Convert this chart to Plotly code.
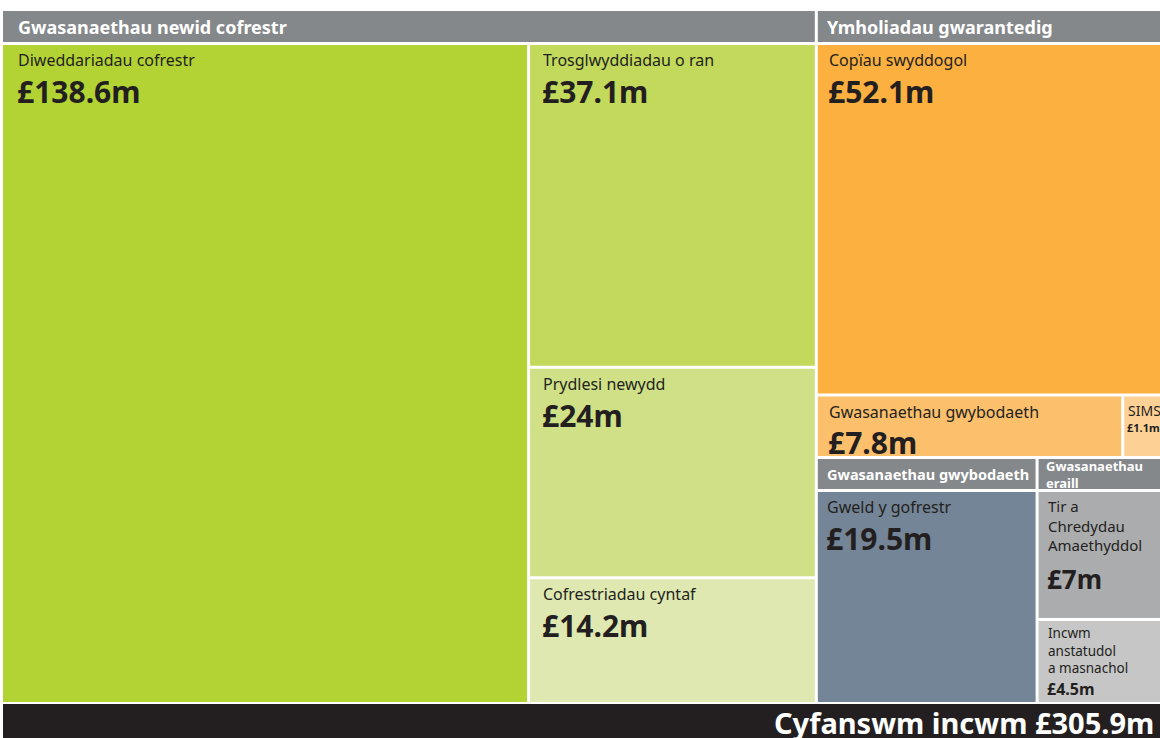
import plotly.graph_objects as go

# ---- data (income in £m) ----
newid_header = "Gwasanaethau newid cofrestr"
newid_labels = ["Diweddariadau cofrestr", "Trosglwyddiadau o ran", "Prydlesi newydd", "Cofrestriadau cyntaf"]
newid_values = [138.6, 37.1, 24, 14.2]

gwarant_header = "Ymholiadau gwarantedig"
gwarant_labels = ["Copïau swyddogol", "Gwasanaethau gwybodaeth", "SIMS"]
gwarant_values = [52.1, 7.8, 1.1]

gwybod_header = "Gwasanaethau gwybodaeth"
gwybod_labels = ["Gweld y gofrestr"]
gwybod_values = [19.5]

eraill_header = "Gwasanaethau<br>eraill"
eraill_labels = ["Tir a<br>Chredydau<br>Amaethyddol", "Incwm<br>anstatudol<br>a masnachol"]
eraill_values = [7, 4.5]

total_label = "Cyfanswm incwm £305.9m"

# ---- styles ----
FONT = "Noto Sans"
DARK = "#231f20"
HEAD = "#85888b"
newid_colors = ["#b3d334", "#c2d95c", "#cfe087", "#dee8b0"]
gwarant_colors = ["#fbb040", "#fcc06c", "#fdd196"]
gwybod_colors = ["#738596"]
eraill_colors = ["#abacae", "#c6c6c6"]

W, H = 1160, 738
GAP = 3
HDR = 31
X0, X1 = 3, 1167      # the original artwork runs a little past the right edge
Y0, Y1 = 11, 702


def split(a, b, vals):
    """Divide [a, b] in proportion to vals, with GAP between the pieces."""
    span = b - a - GAP * (len(vals) - 1)
    out, pos = [], a
    for v in vals:
        w = span * v / sum(vals)
        out.append((pos, pos + w))
        pos += w + GAP
    return out


fig = go.Figure()
shapes, notes = [], []


def rect(x0, x1, y0, y1, color):
    shapes.append(dict(type="rect", xref="x", yref="y", x0=x0, x1=x1, y0=y0, y1=y1,
                       fillcolor=color, line=dict(width=0), layer="below"))


def header(x0, x1, y0, y1, text, size=18, pad=14):
    rect(x0, x1, y0, y1, HEAD)
    notes.append(dict(x=x0 + pad, y=(y0 + y1) / 2, text="<b>%s</b>" % text, xanchor="left",
                      yanchor="middle", showarrow=False, align="left", borderpad=0,
                      font=dict(family=FONT, size=size, color="white")))


def cell(x0, x1, y0, y1, color, label, value, lsize=16, vsize=30, pad=12, vgap=1, ltop=3):
    rect(x0, x1, y0, y1, color)
    notes.append(dict(x=x0 + pad, y=y0 + ltop, text=label, xanchor="left", yanchor="top",
                      showarrow=False, align="left", borderpad=0,
                      font=dict(family=FONT, size=lsize, color=DARK)))
    nlines = label.count("<br>") + 1
    vy = y0 + ltop + nlines * lsize * 1.3 + vgap
    notes.append(dict(x=x0 + pad - 1, y=vy, text="<b>£%gm</b>" % value, xanchor="left",
                      yanchor="top", showarrow=False, align="left", borderpad=0,
                      font=dict(family=FONT, size=vsize, color=DARK)))


total = sum(newid_values) + sum(gwarant_values) + sum(gwybod_values) + sum(eraill_values)
(lx0, lx1), (rx0, rx1) = split(X0, X1, [sum(newid_values), total - sum(newid_values)])

# left block
header(lx0, lx1, Y0, Y0 + HDR, newid_header)
cy0 = Y0 + HDR + GAP
(ax0, ax1), (bx0, bx1) = split(lx0, lx1, [newid_values[0], sum(newid_values[1:])])
cell(ax0, ax1, cy0, Y1, newid_colors[0], newid_labels[0], newid_values[0], pad=14)
for (y0, y1), lab, val, col in zip(split(cy0, Y1, newid_values[1:]), newid_labels[1:],
                                   newid_values[1:], newid_colors[1:]):
    cell(bx0, bx1, y0, y1, col, lab, val)

# right block
lower = sum(gwybod_values) + sum(eraill_values)
avail = (Y1 - Y0) - 2 * (HDR + GAP) - GAP
top_h = avail * sum(gwarant_values) / (sum(gwarant_values) + lower)
header(rx0, rx1, Y0, Y0 + HDR, gwarant_header, pad=8)
gy0 = Y0 + HDR + GAP
gy1 = gy0 + top_h
(p0, p1), (q0, q1) = split(gy0, gy1, [gwarant_values[0], sum(gwarant_values[1:])])
cell(rx0, rx1, p0, p1, gwarant_colors[0], gwarant_labels[0], gwarant_values[0], pad=10)
(s0, s1), (t0, t1) = split(rx0, rx1, gwarant_values[1:])
cell(s0, s1, q0, q1, gwarant_colors[1], gwarant_labels[1], gwarant_values[1], pad=10)
cell(t0, t1, q0, q1, gwarant_colors[2], gwarant_labels[2], gwarant_values[2],
     lsize=14, vsize=11, pad=3, vgap=1)

hy0 = gy1 + GAP
hy1 = hy0 + HDR - 1
by0 = hy1 + GAP
(u0, u1), (v0, v1) = split(rx0, rx1, [sum(gwybod_values), sum(eraill_values)])
header(u0, u1, hy0, hy1, gwybod_header, size=14.5, pad=8)
header(v0, v1, hy0, hy1, eraill_header, size=13, pad=6)
cell(u0, u1, by0, Y1, gwybod_colors[0], gwybod_labels[0], gwybod_values[0], pad=8)
(e0, e1), (f0, f1) = split(by0, Y1, eraill_values)
cell(v0, v1, e0, e1, eraill_colors[0], eraill_labels[0], eraill_values[0],
     lsize=15, vsize=26, pad=8, vgap=6)
cell(v0, v1, f0, f1, eraill_colors[1], eraill_labels[1], eraill_values[1],
     lsize=13.5, vsize=16, pad=8, vgap=1, ltop=2)

# total band
rect(X0, X1, Y1 + 2, H + 10, DARK)
notes.append(dict(x=1155, y=722, text="<b>%s</b>" % total_label, xanchor="right",
                  yanchor="middle", showarrow=False, borderpad=0,
                  font=dict(family=FONT, size=29, color="white")))

fig.update_layout(
    width=W, height=H,
    margin=dict(l=0, r=0, t=0, b=0),
    paper_bgcolor="white", plot_bgcolor="white",
    shapes=shapes, annotations=notes,
    xaxis=dict(range=[0, W], visible=False, fixedrange=True),
    yaxis=dict(range=[H, 0], visible=False, fixedrange=True),
    showlegend=False,
)
fig.write_html("out.html", config={"displayModeBar": False},
               post_script="document.body.style.margin='0px';document.body.style.overflow='hidden';")
